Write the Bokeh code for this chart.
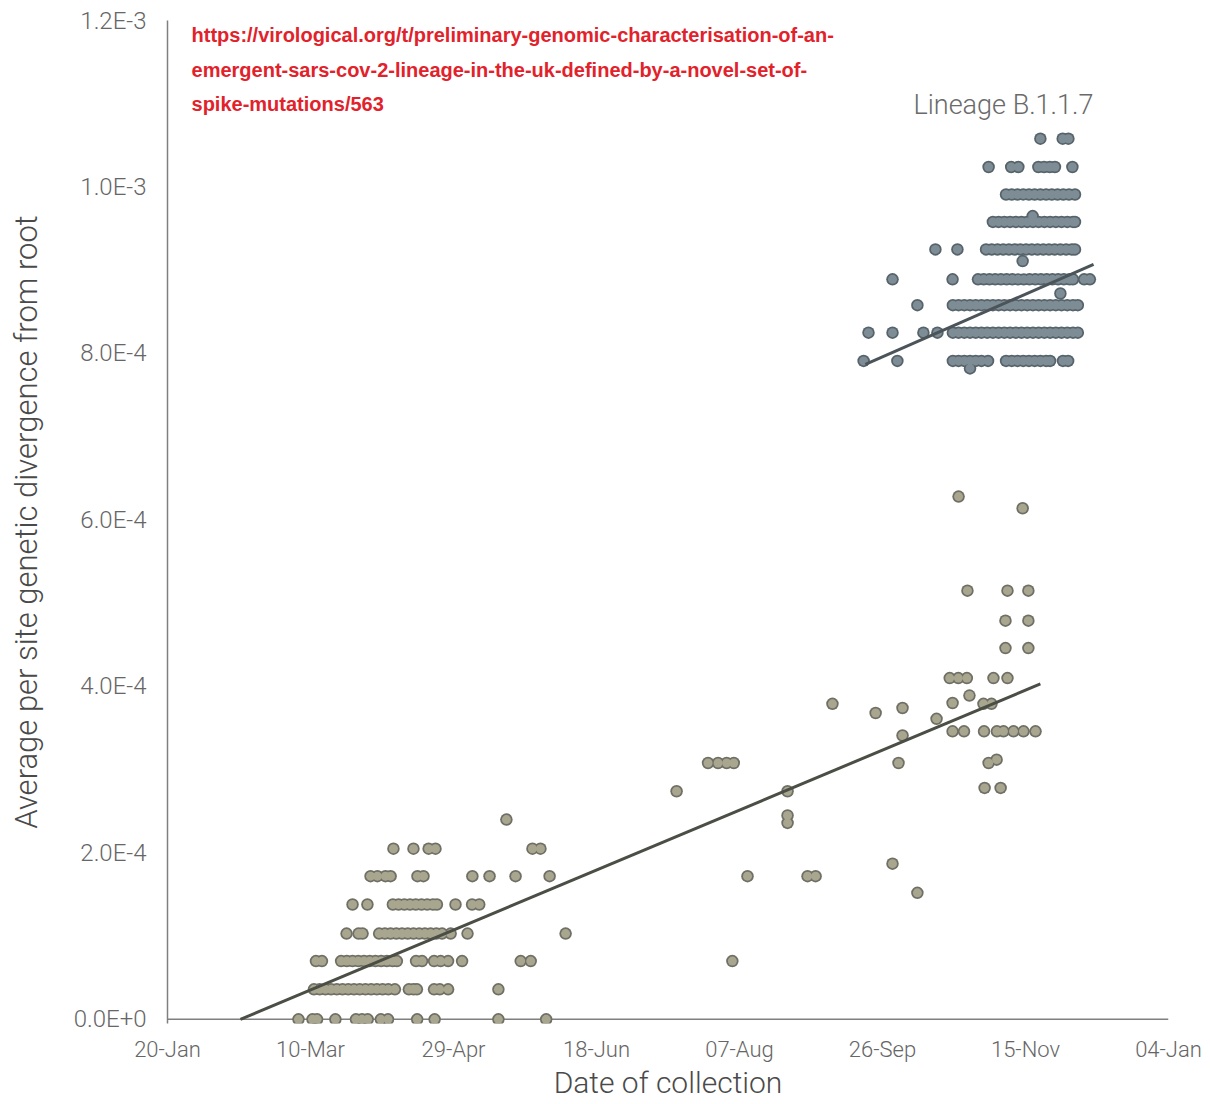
import numpy as np
import pandas as pd
from datetime import datetime
from bokeh.plotting import figure
from bokeh.models import (ColumnDataSource, Range1d, FixedTicker, DatetimeTickFormatter,
                          CustomJSTickFormatter, Label, Span)
from bokeh.embed import file_html
from bokeh.resources import INLINE

# ---------------- data (collection day = day-of-year 2020, divergence per site) -------------
OTHER_DIV = [0.0, 0.36e-4, 0.70e-4, 1.03e-4, 1.38e-4, 1.72e-4, 1.87e-4, 1.52e-4, 2.05e-4,
             2.36e-4, 2.40e-4, 2.45e-4, 2.74e-4, 2.78e-4, 3.08e-4, 3.12e-4, 3.41e-4, 3.46e-4,
             3.61e-4, 3.68e-4, 3.74e-4, 3.79e-4, 3.80e-4, 3.89e-4, 4.10e-4, 4.46e-4, 4.79e-4,
             5.15e-4, 6.14e-4, 6.28e-4]
OTHER_DAYS = [
    [65.8, 70.7, 72.3, 78.7, 85.9, 88.0, 90.0, 94.6, 97.1, 107.3, 113.4, 135.7, 152.4],
    [71.2, 73.2, 75.2, 77.2, 79.2, 81.2, 83.2, 85.2, 87.2, 89.2, 91.2, 93.2, 95.2, 97.2, 99.5,
     104.4, 106.0, 107.2, 113.2, 115.2, 118.1, 135.7],
    [71.9, 74.0, 80.7, 82.7, 84.7, 86.7, 88.7, 90.7, 92.7, 94.7, 96.7, 98.7, 100.2, 106.9, 109.0,
     113.2, 115.5, 118.1, 123.0, 143.5, 147.0, 217.5],
    [82.6, 86.8, 88.2, 94.0, 96.0, 98.0, 100.0, 102.0, 104.0, 106.0, 108.0, 110.0, 112.0, 114.0,
     116.0, 119.0, 124.9, 159.2],
    [84.7, 89.9, 98.8, 100.8, 102.8, 104.8, 106.8, 108.8, 110.8, 112.8, 114.2, 120.7, 126.5, 129.0],
    [91.0, 93.4, 96.2, 98.0, 107.4, 109.5, 126.6, 132.6, 141.7, 153.6, 222.8, 243.8, 246.6],
    [273.5],
    [282.2],
    [99.0, 106.0, 111.3, 113.7, 147.6, 150.4],
    [236.8],
    [138.5],
    [236.8],
    [198.0, 236.8],
    [305.7, 311.3],
    [209.0, 212.5, 215.5, 218.0, 275.6, 307.1],
    [309.9],
    [277.0],
    [294.5, 298.5, 305.5, 310.0, 312.3, 315.8, 319.3, 323.5],
    [288.9],
    [267.6],
    [277.0],
    [252.5, 305.3, 308.1],
    [294.5],
    [300.4],
    [293.5, 296.5, 299.5, 308.8, 313.7],
    [313.0, 321.0],
    [313.0, 321.0],
    [299.7, 313.7, 321.0],
    [319.0],
    [296.6],
]

B117_DIV = [7.82e-4, 7.91e-4, 8.25e-4, 8.58e-4, 8.72e-4, 8.89e-4, 9.11e-4, 9.25e-4, 9.58e-4,
            9.65e-4, 9.91e-4, 10.24e-4, 10.58e-4]
B117_DAYS = [
    [300.6],
    [263.4, 275.2, 294.6, 296.6, 298.6, 300.6, 302.6, 304.6, 306.9, 313.2, 315.2, 317.2, 319.2,
     321.2, 323.2, 325.2, 327.2, 328.6, 333.1, 334.9],
    [265.1, 273.5, 284.3, 289.2, 294.6, 296.6, 298.6, 300.6, 302.6, 304.6, 306.6, 308.6, 310.6,
     312.6, 314.6, 316.6, 318.6, 320.6, 322.6, 324.6, 326.6, 328.6, 330.6, 332.6, 334.6, 336.6,
     338.3],
    [282.2, 294.6, 296.6, 298.6, 300.6, 302.6, 304.6, 306.6, 308.6, 310.6, 312.6, 314.6, 316.6,
     318.6, 320.6, 322.6, 324.6, 326.6, 328.6, 330.6, 332.6, 334.6, 336.6, 338.3],
    [332.2],
    [273.5, 294.5, 303.4, 305.4, 307.4, 309.4, 311.4, 313.4, 315.4, 317.4, 319.4, 321.4, 323.4,
     325.4, 327.4, 329.4, 331.4, 333.4, 335.4, 336.6, 340.5, 342.5],
    [319.0],
    [288.5, 296.2, 306.2, 308.2, 310.2, 312.2, 314.2, 316.2, 318.2, 320.2, 322.2, 324.2, 326.2,
     328.2, 330.2, 332.2, 334.2, 336.2, 337.3],
    [308.6, 310.6, 312.6, 314.6, 316.6, 318.6, 320.6, 322.6, 324.6, 326.6, 328.6, 330.6, 332.6,
     334.6, 336.6, 337.3],
    [322.5],
    [313.2, 315.2, 317.2, 319.2, 321.2, 323.2, 325.2, 327.2, 329.2, 331.2, 333.2, 335.2, 337.3],
    [307.1, 315.0, 317.5, 324.5, 326.5, 328.5, 330.3, 336.4],
    [325.2, 333.0, 335.0],
]

FIT_OTHER_DAY = [45.5, 325.2]
FIT_OTHER_DIV = [0.0, 4.03e-4]
FIT_B117_DAY = [264.0, 343.8]
FIT_B117_DIV = [7.87e-4, 9.07e-4]

X_TICKS = ["2020-01-20", "2020-03-10", "2020-04-29", "2020-06-18", "2020-08-07",
           "2020-09-26", "2020-11-15", "2021-01-04"]
Y_TICKS = [0.0, 2.0e-4, 4.0e-4, 6.0e-4, 8.0e-4, 1.0e-3, 1.2e-3]

URL_LINES = ["https://virological.org/t/preliminary-genomic-characterisation-of-an-",
             "emergent-sars-cov-2-lineage-in-the-uk-defined-by-a-novel-set-of-",
             "spike-mutations/563"]
LINEAGE_TEXT = "Lineage B.1.1.7"

# ---------------- helpers ----------------
BASE = pd.Timestamp("2019-12-31")


def to_dates(days):
    return BASE + pd.to_timedelta(np.asarray(days, dtype=float), unit="D")


def to_ms(day):
    return (BASE + pd.to_timedelta(day, unit="D")).value / 1e6


def flatten(levels, days):
    xs, ys = [], []
    for lv, ds in zip(levels, days):
        xs.extend(ds)
        ys.extend([lv] * len(ds))
    return ColumnDataSource(dict(x=to_dates(xs), y=ys))


FONT = "Roboto Light"

p = figure(width=1210, height=1104, x_axis_type="datetime",
           output_backend="svg", toolbar_location=None,
           x_range=Range1d(datetime(2020, 1, 20), datetime(2021, 1, 4)),
           y_range=Range1d(-0.05e-4, 1.2e-3),
           min_border_left=167, min_border_right=42, min_border_top=20,
           min_border_bottom=81)
p.background_fill_color = "white"
p.border_fill_color = "white"
p.outline_line_color = None
p.grid.visible = False

# axes
for ax in (p.xaxis[0], p.yaxis[0]):
    ax.major_tick_line_color = None
    ax.minor_tick_line_color = None
    ax.axis_line_color = "#7f7f7f"
    ax.axis_line_width = 1.5
    ax.major_label_text_color = "#666666"
    ax.major_label_text_font = FONT
    ax.axis_label_text_font = FONT
    ax.axis_label_text_font_style = "normal"
    ax.axis_label_text_color = "#4a4a4a"

p.xaxis.axis_line_color = None
p.xaxis.ticker = FixedTicker(ticks=[pd.Timestamp(d).value / 1e6 for d in X_TICKS], minor_ticks=[])
fmt = "%d-%b"
p.xaxis.formatter = DatetimeTickFormatter(microseconds=fmt, milliseconds=fmt, seconds=fmt,
                                          minsec=fmt, minutes=fmt, hourmin=fmt, hours=fmt,
                                          days=fmt, months=fmt, years=fmt)
p.xaxis.axis_label = "Date of collection"
p.xaxis.major_label_text_font_size = "22px"
p.xaxis.axis_label_text_font_size = "30px"
p.xaxis.major_label_standoff = 7
p.xaxis.axis_label_standoff = 0

p.yaxis.ticker = FixedTicker(ticks=Y_TICKS, minor_ticks=[])
p.yaxis.formatter = CustomJSTickFormatter(code="return tick.toExponential(1).toUpperCase();")
p.yaxis.axis_label = "Average per site genetic divergence from root"
p.yaxis.major_label_text_font_size = "24px"
p.yaxis.axis_label_text_font_size = "31px"
p.yaxis.major_label_standoff = 15
p.yaxis.axis_label_standoff = 26

p.add_layout(Span(location=0, dimension="width", line_color="#7f7f7f", line_width=1.5,
                  level="underlay"))

# points: outline layer then fill layer (gives a merged outline like the original)
src_o = flatten(OTHER_DIV, OTHER_DAYS)
src_b = flatten(B117_DIV, B117_DAYS)
p.scatter("x", "y", source=src_o, size=12.5, fill_color="#6f6f66", line_color=None)
p.scatter("x", "y", source=src_o, size=9.0, fill_color="#a9a68f", line_color=None)
p.scatter("x", "y", source=src_b, size=12.5, fill_color="#56636a", line_color=None)
p.scatter("x", "y", source=src_b, size=9.0, fill_color="#7e8d95", line_color=None)

# regression lines
p.line(to_dates(FIT_OTHER_DAY), FIT_OTHER_DIV, line_color="#4a4e45", line_width=3)
p.line(to_dates(FIT_B117_DAY), FIT_B117_DIV, line_color="#4a5459", line_width=3)

# texts
url_y = [1.182e-3, 1.140e-3, 1.100e-3]
for txt, yy in zip(URL_LINES, url_y):
    p.add_layout(Label(x=to_ms(28.4), y=yy, text=txt, text_font="Liberation Sans",
                       text_font_style="bold", text_font_size="20px", text_color="#e2222b",
                       text_align="left", text_baseline="middle"))

p.add_layout(Label(x=to_ms(312.3), y=1.099e-3, text=LINEAGE_TEXT, text_font=FONT,
                   text_font_size="27px", text_color="#6a6a6a", text_align="center",
                   text_baseline="middle"))

open("out.html", "w").write(file_html(p, INLINE))
